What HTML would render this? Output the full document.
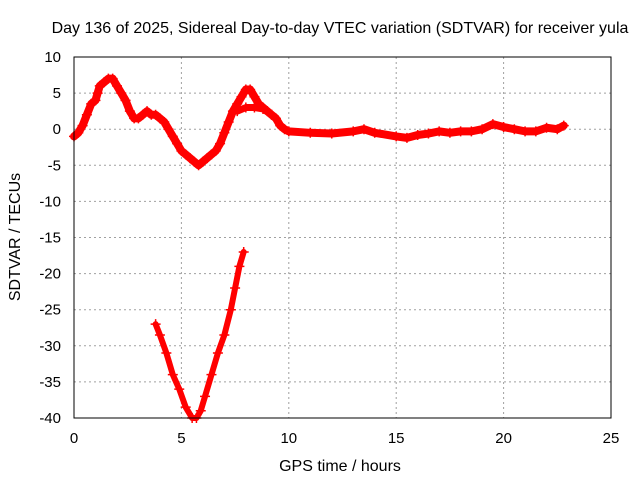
<!DOCTYPE html>
<html><head><meta charset="utf-8"><style>
body{margin:0;background:#fff;}
svg{display:block;font-family:"Liberation Sans",sans-serif;}
</style></head><body>
<svg id="chart" width="640" height="480">
<rect x="0" y="0" width="640" height="480" fill="#fff"/>
<text x="340" y="33" text-anchor="middle" font-size="16">Day 136 of 2025, Sidereal Day-to-day VTEC variation (SDTVAR) for receiver yula</text>
<text x="0" y="0" transform="translate(20,237) rotate(-90)" text-anchor="middle" font-size="16">SDTVAR / TECUs</text>
<text x="340" y="471" text-anchor="middle" font-size="16">GPS time / hours</text>
<g id="grid"></g><g id="ticks"></g><g id="series"></g>
<rect x="74" y="57" width="537" height="361" fill="none" stroke="#000" stroke-width="1"/>
</svg>
<script>
const xTicks=[0,5,10,15,20,25];
const yTicks=[10,5,0,-5,-10,-15,-20,-25,-30,-35,-40];
const upperT=[0,0.2,0.4,0.6,0.8,1.0,1.1,1.2,1.4,1.6,1.8,2.0,2.2,2.4,2.6,2.8,3.0,3.2,3.4,3.6,3.8,4.0,4.2,4.4,4.6,4.8,5.0,5.2,5.4,5.6,5.8,6.0,6.2,6.4,6.6,6.8,7.0,7.2,7.4,7.6,7.8,8.0,8.2,8.4,8.6,8.8,9.0,9.2,9.4,9.6,9.8,10,11,12,13,13.5,14,15,15.5,16,16.5,17,17.5,18,18.5,19,19.5,20,20.5,21,21.5,22,22.5,22.8];
const upperV=[-1,-0.5,0.5,2,3.5,4,5,6,6.5,7,7,6,5,4,2.5,1.5,1.5,2,2.5,2,2,1.5,1,0,-1,-2,-3,-3.5,-4,-4.5,-5,-4.5,-4,-3.5,-3,-2,-0.5,1,2.5,3.5,4.5,5.5,5.5,4.5,3.5,3,2.5,2,1.5,0.5,0,-0.3,-0.5,-0.6,-0.3,0,-0.5,-1,-1.2,-0.8,-0.6,-0.3,-0.5,-0.3,-0.3,0,0.7,0.3,0,-0.3,-0.3,0.2,0,0.5];
const branchT=[7.6,8.0,8.4,8.8,9.2];
const branchV=[2.5,3,3,2.8,2];
const lowerT=[3.8,4.0,4.3,4.6,4.9,5.2,5.5,5.7,5.9,6.1,6.4,6.7,7.0,7.3,7.5,7.7,7.9];
const lowerV=[-27,-28.5,-31,-34,-36,-38.5,-40,-40,-39,-37,-34,-31,-28.5,-25,-22,-19,-17];
const X=t=>74+t/25*537, Y=v=>57+(10-v)/50*361;
const NS='http://www.w3.org/2000/svg';
function mk(tag,attrs,parent){const e=document.createElementNS(NS,tag);for(const k in attrs)e.setAttribute(k,attrs[k]);parent.appendChild(e);return e;}
const g=document.getElementById('grid'),tk=document.getElementById('ticks'),s=document.getElementById('series');
xTicks.forEach(t=>{
 const x=X(t);
 if(t>0&&t<25){const l=mk('line',{x1:x,x2:x,y1:57,y2:418,stroke:'#a0a0a0','stroke-dasharray':'2,3'},g);
 
 }
 const tx=mk('text',{x:x,y:443,'text-anchor':'middle','font-size':'15'},tk);tx.textContent=t;
 
 
});
yTicks.forEach(v=>{
 const y=Y(v);
 if(v<10&&v>-40){const l=mk('line',{x1:74,x2:611,y1:y,y2:y,stroke:'#a0a0a0','stroke-dasharray':'2,3'},g);
 
 }
 const tx=mk('text',{x:61,y:y+5,'text-anchor':'end','font-size':'15'},tk);tx.textContent=v;
 
 
});
function draw(T,V,name,w){
 const pts=T.map((t,i)=>X(t)+','+Y(V[i])).join(' ');
 const pl=mk('polyline',{points:pts,fill:'none',stroke:'#f00','stroke-width':w,'stroke-linejoin':'round','stroke-linecap':'round'},s);
 
 
 T.forEach((t,i)=>{const x=X(t),y=Y(V[i]);
  const p=mk('path',{d:`M${x-5},${y}H${x+5}M${x},${y-5}V${y+5}`,stroke:'#f00','stroke-width':'1.5'},s);
  
  });
}
draw(upperT,upperV,'sdtvar-series-upper',8);
draw(branchT,branchV,'sdtvar-series-branch',7);
draw(lowerT,lowerV,'sdtvar-series-lower',6);
</script>
</body></html>
